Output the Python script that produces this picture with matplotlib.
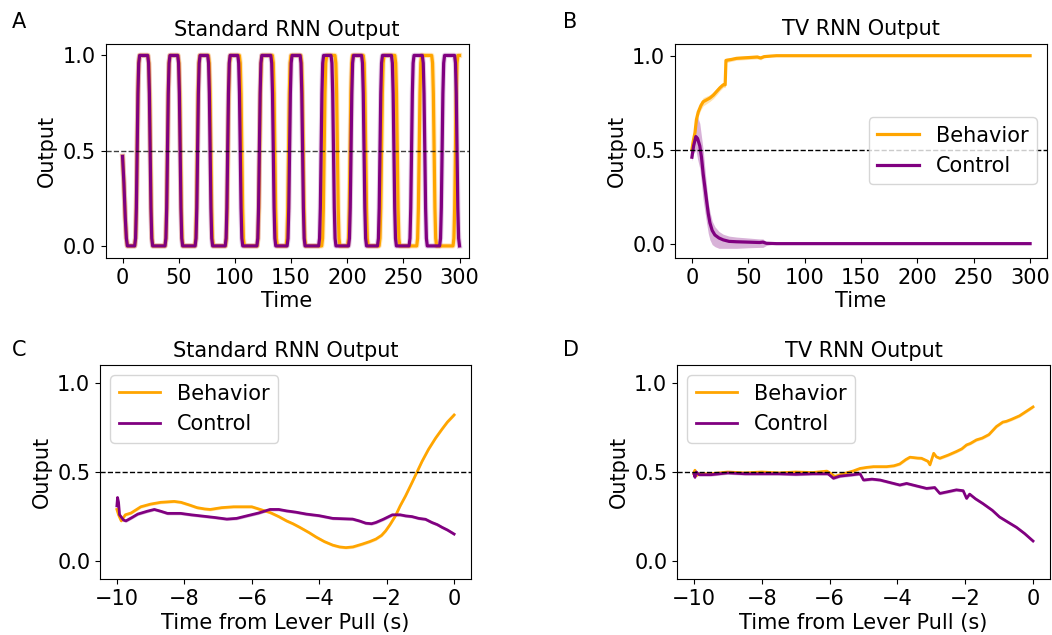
import numpy as np
import matplotlib
matplotlib.use("Agg")
import matplotlib.pyplot as plt

# ---------------- Data ----------------
# Panel A: Standard RNN output (square-wave like oscillation); edge times
a_start_t = [0.0, 1.2, 2.4, 3.4, 4.3]
a_start_y = [0.47, 0.33, 0.15, 0.04, 0.0]
a_purple_rise = [13.0, 40.0, 66.8, 93.6, 121.8, 148.7, 176.8, 203.4, 229.2, 257.3, 284.5]
a_purple_fall = [24.6, 51.3, 78.0, 104.8, 134.2, 160.3, 187.8, 215.0, 241.6, 269.1, 297.8]
a_orange_rise = [13.0, 40.0, 66.6, 93.8, 122.0, 147.8, 179.5, 202.6, 230.6, 264.1, 296.4]
a_orange_fall = [24.8, 51.6, 78.6, 106.2, 135.6, 160.8, 191.3, 216.5, 244.6, 277.4]
a_end_t = 300.0
# shape of one 0->1 transition (offset in time, value)
edge_dt = [-2.2, -1.4, -0.7, 0.0, 0.7, 1.4, 2.2]
edge_y = [0.0, 0.04, 0.2, 0.5, 0.8, 0.96, 1.0]

# Panel B: TV RNN output
b_orange_t = [0, 1, 2.7, 4, 5.6, 8, 10, 13, 16, 19, 22, 25, 27.8, 29.5, 30.2, 35, 39.6, 50, 58, 61, 64, 70, 75, 300]
b_orange_y = [0.5, 0.54, 0.59, 0.66, 0.70, 0.735, 0.755, 0.765, 0.775, 0.79, 0.81, 0.83, 0.845, 0.845,
              0.975, 0.98, 0.986, 0.99, 0.993, 0.988, 0.995, 0.998, 1.0, 1.0]
b_orange_sd = [0.01, 0.015, 0.02, 0.022, 0.022, 0.022, 0.022, 0.02, 0.018, 0.018, 0.018, 0.016, 0.014, 0.014,
               0.012, 0.01, 0.01, 0.01, 0.01, 0.01, 0.006, 0.003, 0.0, 0.0]
b_purple_t = [0, 1.5, 3.5, 5, 7, 8.5, 10, 11.5, 13, 14.5, 16, 18, 20.4, 24, 27.8, 33, 39.6, 50, 60, 63, 66, 75, 300]
b_purple_y = [0.46, 0.52, 0.57, 0.56, 0.52, 0.46, 0.37, 0.30, 0.23, 0.16, 0.11, 0.07, 0.046, 0.03, 0.02,
              0.012, 0.01, 0.008, 0.006, 0.008, 0.002, 0.0, 0.0]
b_purple_hi = [0.48, 0.56, 0.64, 0.675, 0.64, 0.57, 0.50, 0.40, 0.31, 0.22, 0.17, 0.12, 0.09, 0.065, 0.05,
               0.04, 0.035, 0.03, 0.025, 0.025, 0.01, 0.0, 0.0]
b_purple_lo = [0.44, 0.48, 0.50, 0.45, 0.40, 0.32, 0.23, 0.17, 0.11, 0.055, 0.02, -0.005, -0.016, -0.025,
               -0.025, -0.025, -0.025, -0.022, -0.02, -0.02, -0.01, 0.0, 0.0]

# Panel C: Standard RNN, time from lever pull
c_orange_t = [-10.0, -9.95, -9.87, -9.75, -9.58, -9.29, -9.0, -8.7, -8.3, -8.1, -7.85, -7.62, -7.4, -7.23,
              -6.9, -6.54, -6.2, -6.0, -5.75, -5.46, -5.2, -4.97, -4.78, -4.58, -4.3, -4.09, -3.85, -3.6,
              -3.4, -3.21, -3.0, -2.72, -2.5, -2.32, -2.15, -2.03, -1.9, -1.74, -1.6, -1.44, -1.25, -1.1,
              -0.95, -0.76, -0.55, -0.36, -0.2, 0.0]
c_orange_y = [0.29, 0.26, 0.226, 0.26, 0.27, 0.305, 0.32, 0.33, 0.335, 0.33, 0.315, 0.30, 0.293, 0.29,
              0.30, 0.305, 0.305, 0.305, 0.29, 0.273, 0.25, 0.226, 0.21, 0.19, 0.16, 0.135, 0.11, 0.09,
              0.08, 0.076, 0.08, 0.096, 0.11, 0.124, 0.145, 0.17, 0.205, 0.254, 0.31, 0.366, 0.44, 0.5,
              0.56, 0.627, 0.69, 0.74, 0.78, 0.82]
c_purple_t = [-10.0, -9.98, -9.95, -9.92, -9.8, -9.73, -9.55, -9.38, -9.1, -8.89, -8.7, -8.5, -8.11, -7.8,
              -7.52, -7.1, -6.74, -6.45, -6.15, -5.8, -5.46, -5.2, -4.97, -4.7, -4.38, -4.0, -3.6, -3.3,
              -3.01, -2.8, -2.62, -2.45, -2.32, -2.1, -1.83, -1.6, -1.44, -1.25, -1.05, -0.85, -0.66,
              -0.5, -0.36, -0.2, 0.0]
c_purple_y = [0.31, 0.357, 0.33, 0.26, 0.23, 0.226, 0.245, 0.264, 0.28, 0.29, 0.28, 0.268, 0.268, 0.26,
              0.254, 0.245, 0.236, 0.24, 0.254, 0.27, 0.29, 0.29, 0.282, 0.275, 0.264, 0.255, 0.24, 0.238,
              0.236, 0.225, 0.213, 0.21, 0.217, 0.235, 0.26, 0.26, 0.254, 0.25, 0.24, 0.235, 0.217,
              0.205, 0.19, 0.175, 0.152]

# Panel D: TV RNN, time from lever pull
d_orange_t = [-10.0, -9.97, -9.93, -9.85, -9.5, -9.0, -8.5, -8.0, -7.5, -7.0, -6.5, -6.08, -5.95, -5.85,
              -5.6, -5.3, -5.1, -4.9, -4.71, -4.32, -4.1, -3.93, -3.75, -3.63, -3.4, -3.29, -3.1, -3.04,
              -2.93, -2.85, -2.75, -2.5, -2.26, -2.1, -1.96, -1.85, -1.67, -1.5, -1.3, -1.08, -0.89,
              -0.79, -0.64, -0.4, -0.2, 0.0]
d_orange_y = [0.49, 0.51, 0.48, 0.49, 0.49, 0.5, 0.495, 0.5, 0.495, 0.5, 0.497, 0.505, 0.49, 0.475,
              0.49, 0.506, 0.52, 0.526, 0.53, 0.53, 0.535, 0.545, 0.57, 0.583, 0.578, 0.577, 0.56, 0.54,
              0.605, 0.585, 0.577, 0.595, 0.615, 0.63, 0.652, 0.66, 0.68, 0.69, 0.71, 0.755, 0.78,
              0.784, 0.795, 0.815, 0.84, 0.865]
d_purple_t = [-10.0, -9.97, -9.93, -9.85, -9.5, -9.0, -8.5, -8.0, -7.5, -7.0, -6.5, -6.05, -5.95, -5.89,
              -5.69, -5.3, -5.1, -5.0, -4.75, -4.51, -4.2, -3.93, -3.73, -3.5, -3.14, -2.9, -2.75, -2.5,
              -2.26, -2.06, -1.96, -1.87, -1.7, -1.48, -1.2, -0.99, -0.75, -0.49, -0.25, 0.0]
d_purple_y = [0.49, 0.47, 0.5, 0.485, 0.485, 0.495, 0.49, 0.49, 0.49, 0.487, 0.49, 0.49, 0.475, 0.465,
              0.477, 0.485, 0.49, 0.455, 0.46, 0.455, 0.44, 0.427, 0.436, 0.425, 0.408, 0.413, 0.38,
              0.39, 0.40, 0.395, 0.352, 0.376, 0.35, 0.323, 0.285, 0.248, 0.22, 0.19, 0.155, 0.113]

series_labels = ["Behavior", "Control"]
titles = ["Standard RNN Output", "TV RNN Output", "Standard RNN Output", "TV RNN Output"]
panel_letters = ["A", "B", "C", "D"]

ORANGE = "orange"
PURPLE = "purple"
FS = 15


def square_wave(rises, falls, start_t, start_y, end_t):
    t = list(start_t)
    y = list(start_y)
    edges = sorted([(r, 1) for r in rises] + [(f, -1) for f in falls])
    for et, kind in edges:
        for dt, v in zip(edge_dt, edge_y):
            t.append(et + dt)
            y.append(v if kind == 1 else 1.0 - v)
    t = np.array(t)
    y = np.array(y)
    keep = t <= end_t
    t, y = t[keep], y[keep]
    if t[-1] < end_t:
        t = np.append(t, end_t)
        y = np.append(y, y[-1])
    return t, y


fig = plt.figure(figsize=(10.52, 6.35), dpi=100)
W, H = 1052.0, 635.0


def add_ax(l, r, t, b):
    return fig.add_axes([l / W, 1 - b / H, (r - l) / W, (b - t) / H])


axA = add_ax(105.7, 468.5, 44, 258.3)
axB = add_ax(675, 1047, 43.5, 258.3)
axC = add_ax(100, 471, 365, 579)
axD = add_ax(677, 1050, 365, 579)

# ---- A ----
tp, yp = square_wave(a_purple_rise, a_purple_fall, a_start_t, a_start_y, a_end_t)
to, yo = square_wave(a_orange_rise, a_orange_fall, a_start_t, a_start_y, a_end_t)
axA.plot(to, yo, color=ORANGE, lw=3.8, alpha=0.25)
axA.plot(tp, yp, color=PURPLE, lw=3.8, alpha=0.2)
axA.plot(to, yo, color=ORANGE, lw=2.3)
axA.plot(tp, yp, color=PURPLE, lw=2.3)
axA.axhline(0.5, color="k", ls="--", lw=1, alpha=0.75)
axA.set_xlim(-15, 308)
axA.set_ylim(-0.065, 1.06)
axA.set_xticks([0, 50, 100, 150, 200, 250, 300])
axA.set_yticks([0.0, 0.5, 1.0])
axA.set_xlabel("Time", fontsize=FS, labelpad=2)
axA.set_ylabel("Output", fontsize=FS)

# ---- B ----
bo_t = np.array(b_orange_t, float)
bo_y = np.array(b_orange_y)
bo_sd = np.array(b_orange_sd)
axB.fill_between(bo_t, bo_y - bo_sd, bo_y + bo_sd, color=ORANGE, alpha=0.3, lw=0)
axB.plot(bo_t, bo_y, color=ORANGE, lw=2.3, label=series_labels[0])
axB.fill_between(b_purple_t, b_purple_lo, b_purple_hi, color=PURPLE, alpha=0.3, lw=0)
axB.plot(b_purple_t, b_purple_y, color=PURPLE, lw=2.3, label=series_labels[1])
axB.axhline(0.5, color="k", ls="--", lw=1)
axB.set_xlim(-15, 315)
axB.set_ylim(-0.078, 1.065)
axB.set_xticks([0, 50, 100, 150, 200, 250, 300])
axB.set_yticks([0.0, 0.5, 1.0])
axB.set_xlabel("Time", fontsize=FS, labelpad=2)
axB.set_ylabel("Output", fontsize=FS)
axB.legend(loc="center right", fontsize=FS)

# ---- C, D ----
for ax, ot, oy, pt, py in [(axC, c_orange_t, c_orange_y, c_purple_t, c_purple_y),
                           (axD, d_orange_t, d_orange_y, d_purple_t, d_purple_y)]:
    ot = np.array(ot); oy = np.array(oy); pt = np.array(pt); py = np.array(py)
    ax.fill_between(ot, oy - 0.008, oy + 0.008, color=ORANGE, alpha=0.3, lw=0)
    ax.plot(ot, oy, color=ORANGE, lw=2.0, label=series_labels[0])
    ax.fill_between(pt, py - 0.008, py + 0.008, color=PURPLE, alpha=0.3, lw=0)
    ax.plot(pt, py, color=PURPLE, lw=2.0, label=series_labels[1])
    ax.axhline(0.5, color="k", ls="--", lw=1)
    ax.set_xlim(-10.5, 0.5)
    ax.set_ylim(-0.1, 1.1)
    ax.set_xticks([-10, -8, -6, -4, -2, 0])
    ax.set_yticks([0.0, 0.5, 1.0])
    ax.set_xlabel("Time from Lever Pull (s)", fontsize=FS, labelpad=3)
    ax.set_ylabel("Output", fontsize=FS)
    ax.legend(loc="upper left", fontsize=FS)

for ax, ttl in zip([axA, axB, axC, axD], titles):
    ax.set_title(ttl, fontsize=FS)
    ax.tick_params(labelsize=FS)

for letter, (lx, ly) in zip(panel_letters, [(12, 22), (563, 22), (12, 350), (563, 350)]):
    fig.text(lx / W, 1 - ly / H, letter, fontsize=FS, va="center", ha="left")

fig.savefig("out.png", dpi=100)
